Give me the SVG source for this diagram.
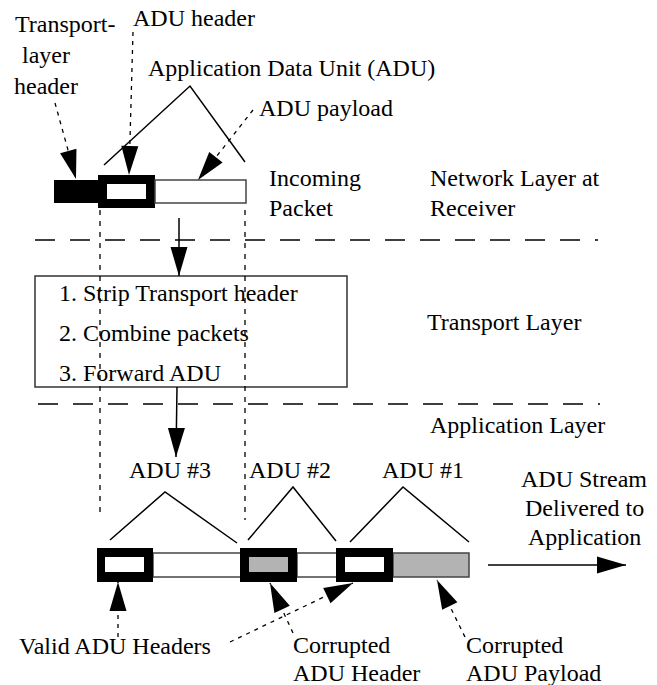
<svg xmlns="http://www.w3.org/2000/svg" width="657" height="685" viewBox="0 0 657 685">
<defs>
<marker id="ah" markerUnits="userSpaceOnUse" markerWidth="30" markerHeight="17" refX="29" refY="8.5" orient="auto" overflow="visible">
<path d="M0,0 L29,8.5 L0,17 z" fill="#000" stroke="none"/>
</marker>
</defs>
<rect width="657" height="685" fill="#fff"/>

<g id="layers" fill="none" stroke="#000" stroke-width="1.3" stroke-dasharray="20 15">
<line x1="35" y1="240" x2="598" y2="240"/>
<line x1="38" y1="404" x2="600" y2="404"/>
</g>

<g id="labels-top">
<text x="15" y="32" font-family="Liberation Serif" font-size="24">Transport-</text>
<text x="22" y="63" font-family="Liberation Serif" font-size="24">layer</text>
<text x="14" y="94" font-family="Liberation Serif" font-size="24">header</text>
<text x="133" y="26" font-family="Liberation Serif" font-size="24">ADU header</text>
<text x="148" y="76" font-family="Liberation Serif" font-size="24">Application Data Unit (ADU)</text>
<text x="259" y="116" font-family="Liberation Serif" font-size="24">ADU payload</text>
</g>

<g id="incoming-packet">
<rect x="54" y="180" width="46" height="23" fill="#000"/>
<rect x="98" y="175" width="57" height="33" fill="#000"/>
<rect x="107" y="184" width="39" height="15" fill="#fff"/>
<rect x="155" y="180" width="91" height="23" fill="#fff" stroke="#444" stroke-width="1.5"/>
<polyline points="104,165 190,86 245,162" fill="none" stroke="#000" stroke-width="1.5"/>
<text x="269" y="186" font-family="Liberation Serif" font-size="24">Incoming</text>
<text x="269" y="216" font-family="Liberation Serif" font-size="24">Packet</text>
</g>

<g id="network-layer">
<text x="430" y="186" font-family="Liberation Serif" font-size="24">Network Layer at</text>
<text x="430" y="216" font-family="Liberation Serif" font-size="24">Receiver</text>
</g>

<g id="transport-box">
<rect x="35" y="276" width="312" height="111" fill="#fff" stroke="#333" stroke-width="1.5"/>
<text x="59" y="301" font-family="Liberation Serif" font-size="24">1. Strip Transport header</text>
<text x="59" y="341" font-family="Liberation Serif" font-size="24">2. Combine packets</text>
<text x="59" y="381" font-family="Liberation Serif" font-size="24">3. Forward ADU</text>
</g>

<g id="guides" fill="none" stroke="#000" stroke-width="1.3" stroke-dasharray="5 6">
<line x1="100" y1="210" x2="100" y2="515"/>
<line x1="245" y1="210" x2="245" y2="520"/>
</g>

<g id="transport-layer">
<text x="427" y="330" font-family="Liberation Serif" font-size="24">Transport Layer</text>
</g>
<g id="application-layer">
<text x="430" y="433" font-family="Liberation Serif" font-size="24">Application Layer</text>
</g>

<g id="adu-stream">
<g fill="none" stroke="#000" stroke-width="1.5">
<polyline points="110,540 165,492 237,543"/>
<polyline points="248,540 293,487 336,541"/>
<polyline points="350,542 403,487 469,542"/>
</g>
<text x="129" y="478" font-family="Liberation Serif" font-size="24">ADU #3</text>
<text x="249" y="478" font-family="Liberation Serif" font-size="24">ADU #2</text>
<text x="382" y="478" font-family="Liberation Serif" font-size="24">ADU #1</text>
<g stroke="#444" stroke-width="1.5">
<rect x="153" y="553" width="88" height="24" fill="#fff"/>
<rect x="297" y="553" width="40" height="24" fill="#fff"/>
<rect x="393" y="553" width="76" height="24" fill="#b3b3b3"/>
</g>
<rect x="97" y="548" width="56" height="34" fill="#000"/>
<rect x="105" y="557" width="39" height="15" fill="#fff"/>
<rect x="240" y="548" width="57" height="34" fill="#000"/>
<rect x="249" y="557" width="39" height="15" fill="#b3b3b3"/>
<rect x="336" y="548" width="57" height="34" fill="#000"/>
<rect x="345" y="557" width="39" height="15" fill="#fff"/>
</g>

<g id="stream-label">
<text x="521" y="487" font-family="Liberation Serif" font-size="24">ADU Stream</text>
<text x="525" y="516" font-family="Liberation Serif" font-size="24">Delivered to</text>
<text x="528" y="545" font-family="Liberation Serif" font-size="24">Application</text>
</g>

<g id="bottom-labels">
<text x="19" y="654" font-family="Liberation Serif" font-size="24">Valid ADU Headers</text>
<text x="293" y="653" font-family="Liberation Serif" font-size="24">Corrupted</text>
<text x="293" y="681" font-family="Liberation Serif" font-size="24">ADU Header</text>
<text x="466" y="653" font-family="Liberation Serif" font-size="24">Corrupted</text>
<text x="466" y="681" font-family="Liberation Serif" font-size="24">ADU Payload</text>
</g>

<g id="connectors" fill="none" stroke="#000">
<g stroke-width="1.3" stroke-dasharray="4 5">
<line x1="55" y1="103" x2="76" y2="179" marker-end="url(#ah)"/>
<line x1="133" y1="32" x2="129" y2="175" marker-end="url(#ah)"/>
<line x1="253" y1="110" x2="198" y2="180" marker-end="url(#ah)"/>
<line x1="118" y1="637" x2="118" y2="582" marker-end="url(#ah)"/>
<line x1="230" y1="642" x2="353" y2="583" marker-end="url(#ah)"/>
<line x1="293" y1="633" x2="270" y2="583" marker-end="url(#ah)"/>
<line x1="465" y1="637" x2="437" y2="580" marker-end="url(#ah)"/>
</g>
<g stroke-width="1.5">
<line x1="179" y1="218" x2="179" y2="276" marker-end="url(#ah)"/>
<line x1="177" y1="387" x2="176" y2="457" marker-end="url(#ah)"/>
<line x1="488" y1="565" x2="626" y2="565" marker-end="url(#ah)"/>
</g>
</g>
</svg>
